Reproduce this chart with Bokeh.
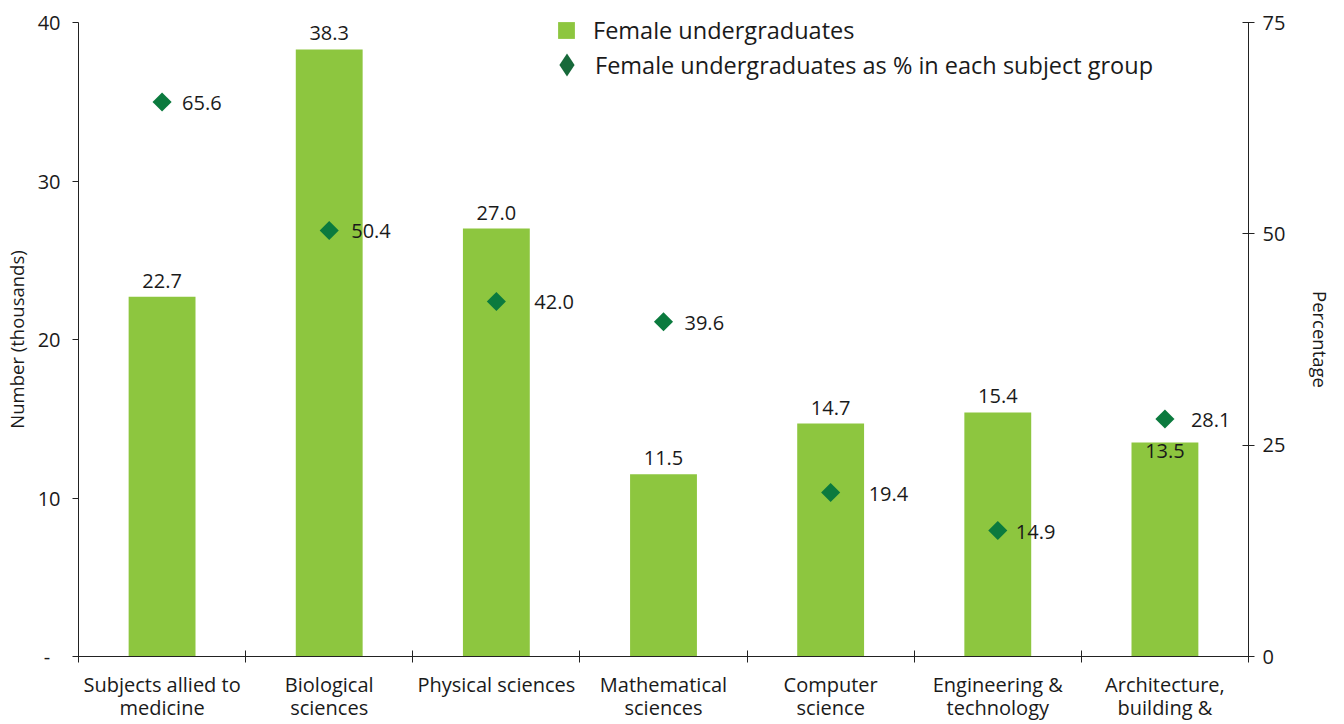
from bokeh.plotting import figure
from bokeh.models import (Range1d, LinearAxis, FixedTicker, Legend, LegendItem,
                          ColumnDataSource)
from bokeh.core.properties import value
from bokeh.embed import file_html
from bokeh.resources import INLINE
import numpy as np

categories = ["Subjects allied to\nmedicine", "Biological\nsciences", "Physical sciences",
              "Mathematical\nsciences", "Computer\nscience", "Engineering &\ntechnology",
              "Architecture,\nbuilding &"]
female_thousands = [22.7, 38.3, 27.0, 11.5, 14.7, 15.4, 13.5]
female_pct = [65.6, 50.4, 42.0, 39.6, 19.4, 14.9, 28.1]
left_ticks = [0, 10, 20, 30, 40]
right_ticks = [0, 25, 50, 75]

FONT = "Open Sans"
BAR = "#8DC63F"
DIA = "#0B7A3E"
DIA_LEG = "#17693A"
TXT = "#1a1a1a"

n = len(categories)
xc = [i + 0.5 for i in range(n)]

# screen-pixel label offsets (styling only), mirroring the original's manual placement
bar_label_dy = [-9, -9, -9, -9, -9, -9, 15]
pct_label_dx = [20, 22, 38, 21, 38, 18, 26]

src = ColumnDataSource(dict(
    x=xc, v=female_thousands, p=female_pct,
    vl=[f"{v:.1f}" for v in female_thousands],
    pl=[f"{v:.1f}" for v in female_pct],
    dy=bar_label_dy, dx=pct_label_dx,
))

p = figure(width=1336, height=724, output_backend="svg", toolbar_location=None,
           x_range=Range1d(0, n), y_range=Range1d(0, 40),
           min_border_left=70, min_border_top=22, min_border_bottom=68, min_border_right=84,
           x_axis_location=None, y_axis_location=None)
p.outline_line_color = None
p.grid.visible = False
p.background_fill_color = "white"
p.extra_y_ranges = {"pct": Range1d(0, 75)}

# bottom axis: labels at category centres, ticks at boundaries
xaxis = LinearAxis(ticker=FixedTicker(ticks=xc, minor_ticks=list(range(n + 1))))
xaxis.major_label_overrides = {x: c for x, c in zip(xc, categories)}
xaxis.major_tick_in = 0
xaxis.major_tick_out = 0
xaxis.minor_tick_in = 6
xaxis.minor_tick_out = 6
xaxis.minor_tick_line_color = "#222222"
xaxis.axis_line_color = "#222222"
xaxis.major_label_standoff = 8
xaxis.major_label_text_font = FONT
xaxis.major_label_text_font_size = "20px"
xaxis.major_label_text_line_height = 0.88
xaxis.major_label_text_color = TXT
p.add_layout(xaxis, "below")

yaxis = LinearAxis(ticker=FixedTicker(ticks=left_ticks), axis_label="Number (thousands)")
yaxis.major_label_overrides = {0: "-\u00a0\u00a0"}
yaxis.major_tick_in = 0
yaxis.major_tick_out = 6
yaxis.minor_tick_line_color = None
yaxis.axis_line_color = "#222222"
yaxis.major_tick_line_color = "#222222"
yaxis.major_label_standoff = 12
yaxis.major_label_text_font = FONT
yaxis.major_label_text_font_size = "20px"
yaxis.major_label_text_color = TXT
yaxis.axis_label_text_font = FONT
yaxis.axis_label_text_font_size = "18.5px"
yaxis.axis_label_text_font_style = "normal"
yaxis.axis_label_text_color = TXT
yaxis.axis_label_standoff = 6
p.add_layout(yaxis, "left")

raxis = LinearAxis(y_range_name="pct", ticker=FixedTicker(ticks=right_ticks),
                   axis_label="Percentage")
raxis.major_tick_in = 6
raxis.major_tick_out = 6
raxis.minor_tick_line_color = None
raxis.axis_line_color = "#222222"
raxis.major_tick_line_color = "#222222"
raxis.major_label_standoff = 8
raxis.major_label_text_font = FONT
raxis.major_label_text_font_size = "20px"
raxis.major_label_text_color = TXT
raxis.axis_label_text_font = FONT
raxis.axis_label_text_font_size = "18.5px"
raxis.axis_label_text_font_style = "normal"
raxis.axis_label_text_color = TXT
raxis.axis_label_standoff = 20
p.add_layout(raxis, "right")

p.vbar(x="x", top="v", width=0.4, source=src, fill_color=BAR, line_color=None)
p.scatter(x="x", y="p", y_range_name="pct", source=src, marker="square",
          angle=np.pi / 4, size=13.5, fill_color=DIA, line_color=None)

# legend proxies: a single undefined (NaN) point, so nothing shows in the plot area
proxy = ColumnDataSource(dict(x=np.array([np.nan]), y=np.array([np.nan])))
sq_leg = p.scatter(x="x", y="y", source=proxy, marker="square",
                   fill_color=BAR, line_color=None)
dia_leg = p.scatter(x="x", y="y", source=proxy, marker="diamond",
                    fill_color=DIA_LEG, line_color=None)

p.text(x="x", y="v", text="vl", source=src, text_align="center", text_baseline="bottom",
       y_offset="dy", text_font=value(FONT), text_font_size="20px", text_color=TXT)
p.text(x="x", y="p", y_range_name="pct", text="pl", source=src, text_align="left",
       text_baseline="middle", x_offset="dx", y_offset=1, text_font=value(FONT),
       text_font_size="20px", text_color=TXT)

leg1 = Legend(items=[LegendItem(label="Female undergraduates", renderers=[sq_leg])],
              location=(467, 605), glyph_width=42, glyph_height=42, label_height=42,
              label_standoff=6, padding=0, margin=0, border_line_color=None,
              background_fill_alpha=0, label_text_font=FONT, label_text_font_size="23.5px",
              label_text_color=TXT)
leg2 = Legend(items=[LegendItem(label="Female undergraduates as % in each subject group",
                                renderers=[dia_leg])],
              location=(460, 563), glyph_width=57, glyph_height=57, label_height=57,
              label_standoff=0, padding=0, margin=0, border_line_color=None,
              background_fill_alpha=0, label_text_font=FONT, label_text_font_size="23.5px",
              label_text_color=TXT)
p.add_layout(leg1, "center")
p.add_layout(leg2, "center")

open("out.html", "w").write(file_html(p, INLINE))
